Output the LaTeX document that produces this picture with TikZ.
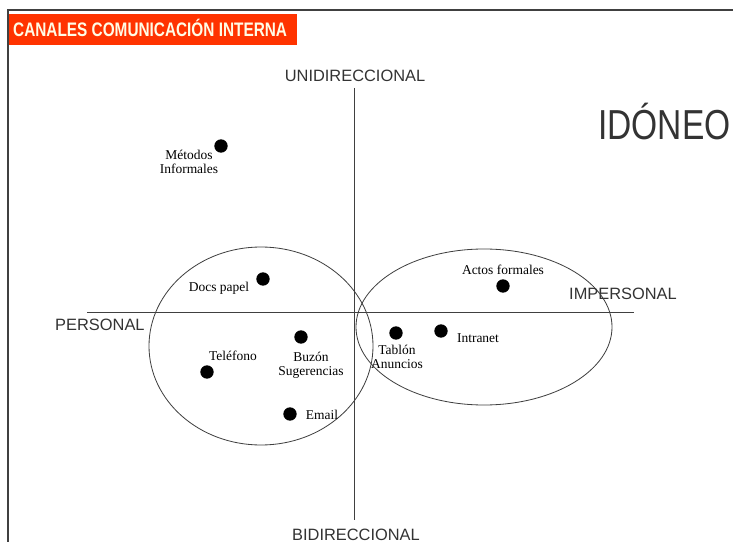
\documentclass[tikz,border=0pt]{standalone}
\usepackage{fontspec}
\setmainfont{Liberation Serif}
\setsansfont{Liberation Sans}
\definecolor{rojotitulo}{RGB}{255,51,0}
\definecolor{textotitulo}{RGB}{255,252,230}
\definecolor{grisejes}{RGB}{64,64,64}
\definecolor{grisletra}{RGB}{51,51,51}
\tikzstyle{punto}=[circle,fill=black,inner sep=0pt,minimum size=0.4cm]
\tikzstyle{etiqueta}=[font=\fontsize{11.5}{12}\selectfont,align=center,inner sep=0pt]
\tikzstyle{eje}=[font=\sffamily\fontsize{14}{14}\selectfont,text=grisletra,inner sep=0pt]
\tikzstyle{linea}=[draw=grisejes,line width=0.8pt]

\begin{document}
\begin{tikzpicture}[x=0.03cm,y=-0.03cm]
  \useasboundingbox (0,0) rectangle (733,542);
  \draw[grisejes,line width=1.5pt](733,10)--(8,10)--(8,542);
  \fill[rojotitulo](9,14) rectangle (297,45);
  \node[anchor=base west,text=textotitulo,font=\sffamily\bfseries\fontsize{16.7}{16.7}\selectfont,xscale=0.785,inner sep=0pt] (titulo) at (13,37) {CANALES COMUNICACIÓN INTERNA};
  \node[anchor=base west,text=grisletra,font=\sffamily\fontsize{35.8}{36}\selectfont,xscale=0.8,inner sep=0pt] (idoneo) at (598,140) {IDÓNEO};

  \coordinate (norte) at (354,88);
  \coordinate (sur) at (354,520);
  \coordinate (oeste) at (87,312);
  \coordinate (este) at (634,312);
  \path[linea](norte)--(sur);
  \path[linea](oeste)--(este);
  \node[eje,anchor=base] (unidir) at (355,82) {UNIDIRECCIONAL};
  \node[eje,anchor=base] (bidir) at (356,540) {BIDIRECCIONAL};
  \node[eje,anchor=base west] (personal) at (55,330) {PERSONAL};
  \node[eje,anchor=base west] (impersonal) at (569,300) {IMPERSONAL};

  \draw[grisejes,line width=0.7pt](261,346) ellipse [x radius=112, y radius=99];
  \draw[grisejes,line width=0.7pt](484,327) ellipse [x radius=128, y radius=78];

  \node[punto] (metodos) at (221,146) {};
  \node[punto] (docs) at (263,279) {};
  \node[punto] (actos) at (503,286) {};
  \node[punto] (telefono) at (207,372) {};
  \node[punto] (buzon) at (301,337) {};
  \node[punto] (email) at (290,414) {};
  \node[punto] (tablon) at (396,333) {};
  \node[punto] (intranet) at (441,331) {};

  \node[etiqueta] (tmetodos) at (189,162) {Métodos\\Informales};
  \node[etiqueta] (tdocs) at (219,288) {Docs papel};
  \node[etiqueta] (tactos) at (503,270) {Actos formales};
  \node[etiqueta] (ttelefono) at (233,356) {Teléfono};
  \node[etiqueta] (tbuzon) at (311,365) {Buzón\\Sugerencias};
  \node[etiqueta] (temail) at (322,415) {Email};
  \node[etiqueta] (ttablon) at (397,357) {Tablón\\Anuncios};
  \node[etiqueta] (tintranet) at (478,338) {Intranet};
\end{tikzpicture}
\end{document}
